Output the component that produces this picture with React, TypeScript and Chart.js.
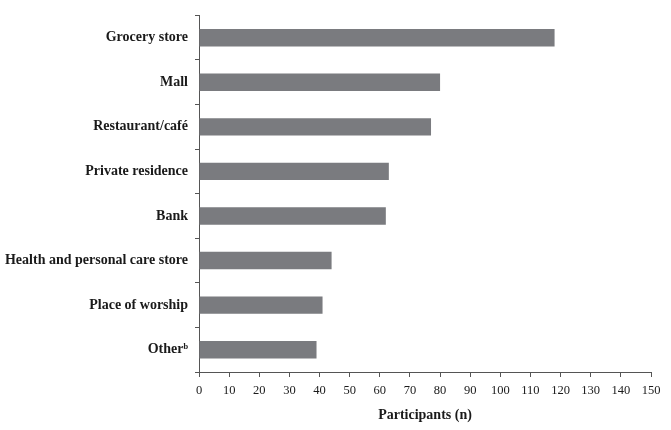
import React, { useEffect, useRef } from "react";
import { Chart, registerables } from "chart.js";

Chart.register(...registerables);

const categories = [
  "Grocery store",
  "Mall",
  "Restaurant/café",
  "Private residence",
  "Bank",
  "Health and personal care store",
  "Place of worship",
  "Otherᵇ",
];
const participants = [118, 80, 77, 63, 62, 44, 41, 39];
const xTickMin = 0;
const xTickMax = 150;
const xTickStep = 10;
const xAxisTitle = "Participants (n)";

export default function App() {
  const ref = useRef<HTMLCanvasElement | null>(null);

  useEffect(() => {
    if (!ref.current) return;
    const chart = new Chart(ref.current, {
      type: "bar",
      data: {
        labels: categories,
        datasets: [
          {
            data: participants,
            backgroundColor: "#7a7b7f",
            borderWidth: 0,
            barPercentage: 0.39,
            categoryPercentage: 1,
          },
        ],
      },
      options: {
        indexAxis: "y",
        animation: false,
        responsive: false,
        maintainAspectRatio: false,
        layout: { padding: { top: 7, right: 20, bottom: 2, left: 0 } },
        plugins: {
          legend: { display: false },
          tooltip: { enabled: false },
        },
        scales: {
          x: {
            min: xTickMin,
            max: xTickMax,
            afterFit: (s: any) => {
              s.height = 56;
            },
            ticks: {
              stepSize: xTickStep,
              color: "#1a1a1a",
              padding: 6,
              font: { family: "'Liberation Serif', 'Times New Roman', serif", size: 12.5 },
            },
            grid: {
              display: true,
              drawOnChartArea: false,
              drawTicks: true,
              tickLength: 5,
              color: "#555",
            },
            border: { display: true, color: "#555", width: 1 },
            title: {
              display: true,
              text: xAxisTitle,
              color: "#1a1a1a",
              font: { family: "'Liberation Serif', 'Times New Roman', serif", size: 14, weight: "bold" },
            },
          },
          y: {
            afterFit: (s: any) => {
              s.width = 199;
            },
            ticks: {
              color: "#1a1a1a",
              padding: 7,
              font: { family: "'Liberation Serif', 'DejaVu Serif', serif", size: 14, weight: "bold" },
            },
            grid: {
              display: true,
              drawOnChartArea: false,
              drawTicks: true,
              tickLength: 4,
              offset: true,
              color: "#555",
            },
            border: { display: true, color: "#555", width: 1 },
          },
        },
      },
    });
    return () => chart.destroy();
  }, []);

  return (
    <div style={{ position: "absolute", left: 0, top: 0, width: 671, height: 430, background: "#fff" }}>
      <canvas ref={ref} width={671} height={430} style={{ display: "block" }} />
    </div>
  );
}
